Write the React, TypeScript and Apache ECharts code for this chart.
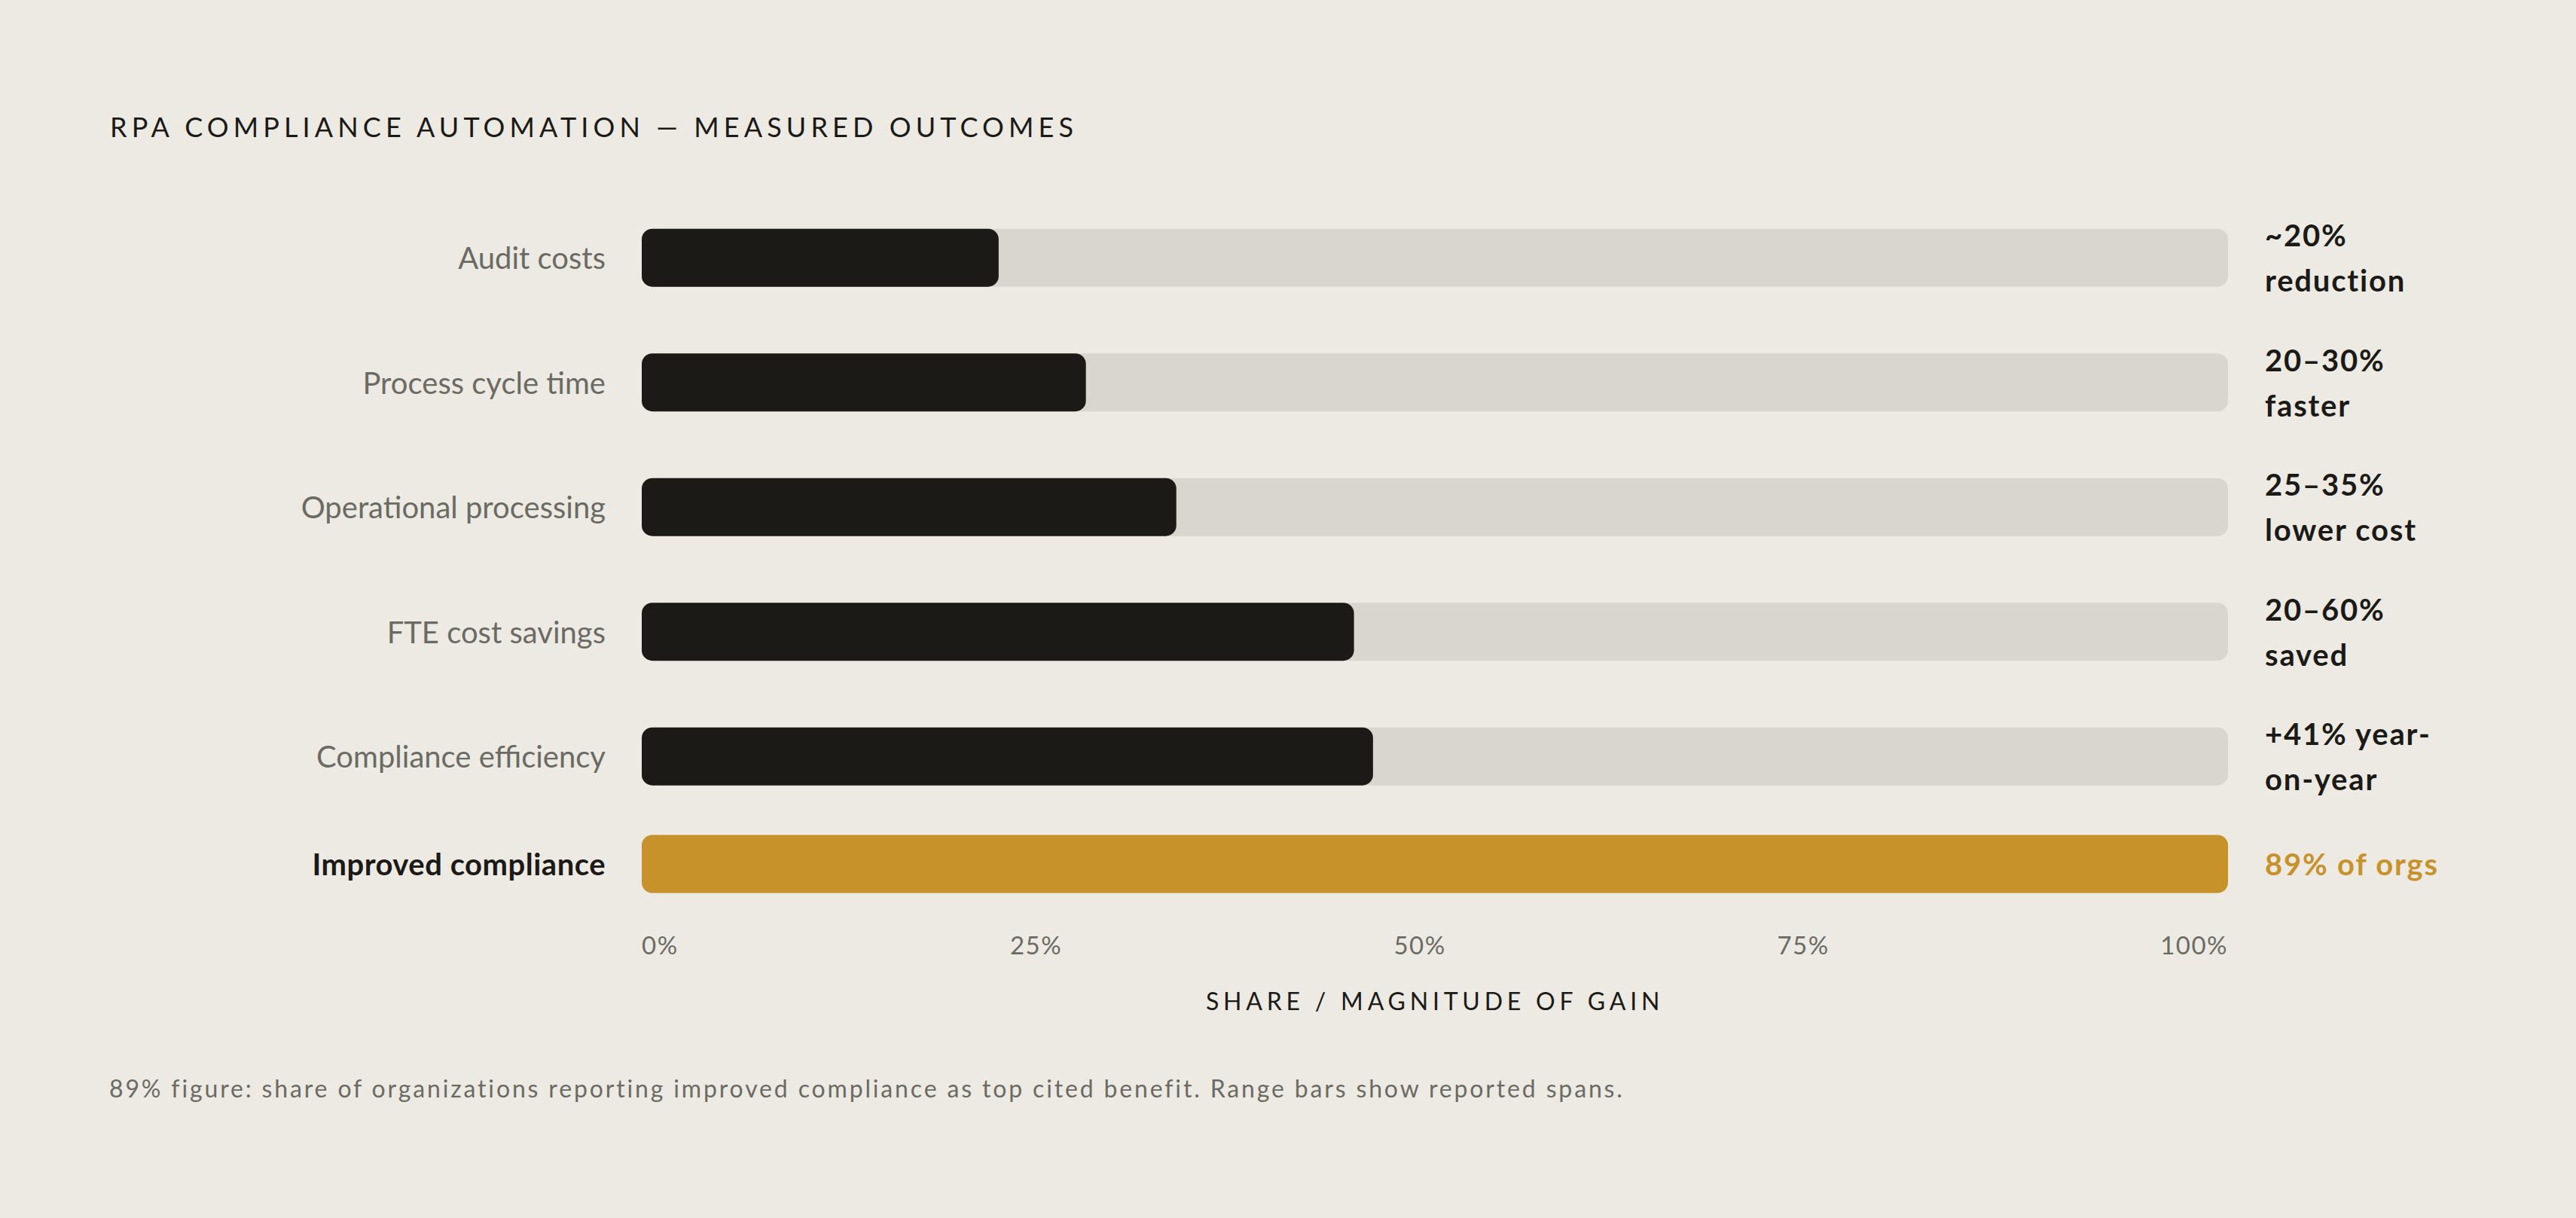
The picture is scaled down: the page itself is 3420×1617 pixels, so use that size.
import React, { useEffect, useRef } from "react";
import * as echarts from "echarts";

const titleText = "RPA COMPLIANCE AUTOMATION — MEASURED OUTCOMES";
const categories = [
  "Audit costs",
  "Process cycle time",
  "Operational processing",
  "FTE cost savings",
  "Compliance efficiency",
];
const values = [22.5, 28, 33.7, 44.9, 46.1];
const outcomeLabels = [
  "~20%\nreduction",
  "20–30%\nfaster",
  "25–35%\nlower cost",
  "20–60%\nsaved",
  "+41% year-\non-year",
];
const highlightCategory = ["Improved compliance"];
const highlightValues = [100];
const highlightLabels = ["89% of orgs"];
const tickLabels = ["0%", "25%", "50%", "75%", "100%"];
const axisName = "SHARE / MAGNITUDE OF GAIN";
const footnote =
  "89% figure: share of organizations reporting improved compliance as top cited benefit. Range bars show reported spans.";

const BG = "#ECEAE3";
const TRACK = "#D9D6CF";
const INK = "#1B1A17";
const GOLD = "#C8922B";
const GRAY = "#6B6A63";
const FONT = "Lato, 'Noto Sans', sans-serif";

const spacing: Record<string, string> = {
  [titleText]: "6.1px",
  [axisName]: "5.8px",
  [footnote]: "2.85px",
};
tickLabels.forEach((t) => (spacing[t] = "1.5px"));
[...outcomeLabels, ...highlightLabels].forEach((l) =>
  l.split("\n").forEach((line) => (spacing[line.trim()] = "1.8px"))
);
highlightCategory.forEach((c) => (spacing[c] = "0.5px"));

export default function App() {
  const ref = useRef<HTMLDivElement>(null);
  useEffect(() => {
    document.body.style.margin = "0";
    document.body.style.background = BG;
    const el = ref.current!;
    const chart = echarts.init(el, null, { renderer: "svg" });
    const gridLeft = 852;
    const gridRight = 3420 - 2958;
    const tickShift = [0, 6, 40, 75, 0];
    const option: any = {
      animation: false,
      backgroundColor: BG,
      textStyle: { fontFamily: FONT },
      title: {
        text: titleText,
        left: 146,
        top: 150,
        padding: 0,
        textStyle: { fontFamily: FONT, fontSize: 36, fontWeight: "normal", color: INK },
      },
      grid: [
        { left: gridLeft, right: gridRight, top: 259.4, height: 827.5 },
        { left: gridLeft, right: gridRight, top: 1097, height: 100 },
      ],
      xAxis: [
        { gridIndex: 0, type: "value", min: 0, max: 100, show: false },
        {
          gridIndex: 1,
          type: "value",
          min: 0,
          max: 100,
          interval: 25,
          axisLine: { show: false },
          axisTick: { show: false },
          splitLine: { show: false },
          axisLabel: {
            margin: 40,
            fontSize: 33,
            color: GRAY,
            fontFamily: FONT,
            alignMinLabel: "left",
            alignMaxLabel: "right",
            formatter: (v: number) => {
              const i = Math.round(v / 25);
              return `{t${i}|${tickLabels[i]}}`;
            },
            rich: Object.fromEntries(
              tickShift.map((s, i) => [
                `t${i}`,
                { fontSize: 33, color: GRAY, fontFamily: FONT, padding: [0, s, 0, 0] },
              ])
            ),
          },
          name: axisName,
          nameLocation: "middle",
          nameGap: 115,
          nameTextStyle: { fontSize: 32, color: INK, fontFamily: FONT },
        },
      ],
      yAxis: [
        {
          gridIndex: 0,
          type: "category",
          data: categories,
          inverse: true,
          axisLine: { show: false },
          axisTick: { show: false },
          axisLabel: { margin: 48, fontSize: 40, color: GRAY, fontFamily: FONT },
        },
        {
          gridIndex: 0,
          type: "category",
          position: "right",
          data: outcomeLabels,
          inverse: true,
          axisLine: { show: false },
          axisTick: { show: false },
          axisLabel: {
            margin: 49,
            fontSize: 40,
            lineHeight: 60,
            fontWeight: "bold",
            color: INK,
            align: "left",
            fontFamily: FONT,
          },
        },
        {
          gridIndex: 1,
          type: "category",
          data: highlightCategory,
          axisLine: { show: false },
          axisTick: { show: false },
          axisLabel: { margin: 48, fontSize: 40, fontWeight: "bold", color: INK, fontFamily: FONT },
        },
        {
          gridIndex: 1,
          type: "category",
          position: "right",
          data: highlightLabels,
          axisLine: { show: false },
          axisTick: { show: false },
          axisLabel: {
            margin: 49,
            fontSize: 40,
            fontWeight: "bold",
            color: GOLD,
            align: "left",
            fontFamily: FONT,
          },
        },
      ],
      series: [
        {
          type: "bar",
          xAxisIndex: 0,
          yAxisIndex: 0,
          data: values,
          barWidth: 77,
          showBackground: true,
          backgroundStyle: { color: TRACK, borderRadius: 14 },
          itemStyle: { color: INK, borderRadius: 14 },
          silent: true,
        },
        {
          type: "bar",
          xAxisIndex: 1,
          yAxisIndex: 2,
          data: highlightValues,
          barWidth: 77,
          showBackground: true,
          backgroundStyle: { color: TRACK, borderRadius: 14 },
          itemStyle: { color: GOLD, borderRadius: 14 },
          silent: true,
        },
      ],
      graphic: [
        {
          type: "text",
          left: 145,
          top: 1428,
          style: { text: footnote, fontSize: 32, fill: GRAY, fontFamily: FONT },
        },
      ],
    };
    chart.setOption(option);
    const apply = () => {
      el.querySelectorAll("text, tspan").forEach((t) => {
        const s = spacing[(t.textContent || "").trim()];
        if (s) (t as any).style.letterSpacing = s;
      });
    };
    chart.getZr().flush();
    apply();
    chart.on("finished", apply);
    const tm = setTimeout(apply, 50);
    return () => {
      clearTimeout(tm);
      chart.dispose();
    };
  }, []);
  return <div ref={ref} style={{ width: 3420, height: 1617 }} />;
}
